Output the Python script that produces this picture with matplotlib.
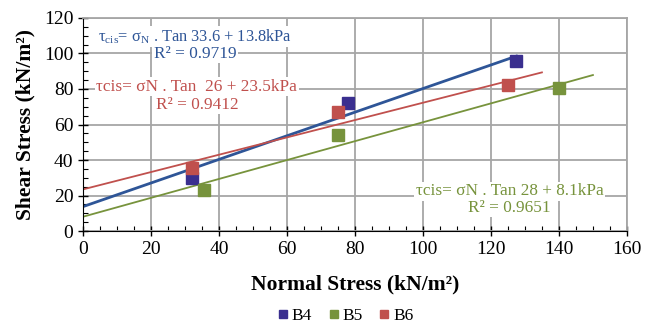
import numpy as np
import matplotlib
matplotlib.use("Agg")
from matplotlib import pyplot as plt
from matplotlib.ticker import MultipleLocator

plt.rcParams['font.family'] = ['Liberation Serif', 'DejaVu Serif']
plt.rcParams['mathtext.fontset'] = 'custom'
plt.rcParams['mathtext.rm'] = 'Liberation Serif'

# measured points
b4_x = [32, 78, 127.5]
b4_y = [30, 72, 96]
b5_x = [35.5, 75, 140]
b5_y = [23, 54, 80.5]
b6_x = [32, 75, 125]
b6_y = [35.5, 67, 82]

# trend lines: friction angle (deg), cohesion (kPa), end of line on x
angles = [33.6, 28, 26]
cohesions = [13.8, 8.1, 23.5]
line_ends = [127.5, 150, 135]
r2 = [0.9719, 0.9651, 0.9412]

names = ["B4", "B5", "B6"]
marker_colors = ["#3a2f8f", "#77933c", "#c0504d"]
line_colors = ["#2e5597", "#77933c", "#c0504d"]
line_widths = [2.0, 1.3, 1.3]

fig = plt.figure(figsize=(6.51, 3.26), dpi=100)
ax = fig.add_axes([0.1275, 0.291, 0.8355, 0.654])

xs_all = [b4_x, b5_x, b6_x]
ys_all = [b4_y, b5_y, b6_y]

for i in range(3):
    lx = np.array([0, line_ends[i]])
    ly = np.tan(np.radians(angles[i])) * lx + cohesions[i]
    ax.plot(lx, ly, color=line_colors[i], lw=line_widths[i], zorder=2)

for i in range(3):
    ax.plot(xs_all[i], ys_all[i], 's', color=marker_colors[i], ms=8,
            label=names[i], zorder=3, linestyle='none')

ax.set_xlim(0, 160)
ax.set_ylim(0, 120)
ax.xaxis.set_major_locator(MultipleLocator(20))
ax.yaxis.set_major_locator(MultipleLocator(20))
ax.xaxis.set_minor_locator(MultipleLocator(5))
ax.yaxis.set_minor_locator(MultipleLocator(5))
ax.grid(True, which='major', color='#a6a6a6', lw=1.3, zorder=0)
ax.set_axisbelow(True)

for s in ['top', 'right']:
    ax.spines[s].set_color('#a6a6a6')
    ax.spines[s].set_linewidth(1.3)
ax.spines['left'].set_color('black')
ax.spines['bottom'].set_color('black')
ax.tick_params(which='major', direction='inout', length=7, width=1, labelsize=14)
ax.tick_params(which='minor', direction='in', length=3.5, width=0.8)

ax.set_xlabel("Normal Stress (kN/m²)", fontsize=15.5, fontweight='bold', labelpad=12)
ax.set_ylabel("Shear Stress (kN/m²)", fontsize=15.5, fontweight='bold', labelpad=6)

fs = 12.4
box = dict(facecolor='white', edgecolor='none', pad=1)
ax.text(33, 109.5, r"τ$_{\rm cis}$= σ$_{\rm N}$ . Tan 33.6 + 13.8kPa", color="#2e5597",
        fontsize=11.8, ha='center', va='center', bbox=box, zorder=4)
ax.text(33, 99.7, "R² = %.4f" % r2[0], color="#2e5597",
        fontsize=fs, ha='center', va='center', bbox=box, zorder=4)
ax.text(33.5, 81.2, "τcis= σN . Tan  26 + 23.5kPa", color="#c0504d",
        fontsize=fs, ha='center', va='center', bbox=box, zorder=4)
ax.text(33.5, 71, "R² = %.4f" % r2[2], color="#c0504d",
        fontsize=fs, ha='center', va='center', bbox=box, zorder=4)
ax.text(125.5, 22.5, "τcis= σN . Tan 28 + 8.1kPa", color="#77933c",
        fontsize=fs, ha='center', va='center', bbox=box, zorder=4)
ax.text(125.5, 13, "R² = %.4f" % r2[1], color="#77933c",
        fontsize=fs, ha='center', va='center', bbox=box, zorder=4)

fig.legend(loc='center', bbox_to_anchor=(0.53, 0.03), ncol=3, frameon=False,
           fontsize=12.5, handlelength=0.7, handletextpad=0.15, columnspacing=0.9,
           markerscale=0.75)

fig.savefig("out.png", dpi=100)
